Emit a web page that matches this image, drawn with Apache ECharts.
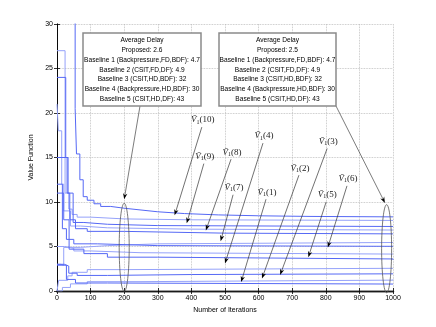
<!DOCTYPE html>
<html>
<head>
<meta charset="utf-8">
<script src="https://cdn.jsdelivr.net/npm/echarts@6/dist/echarts.min.js"></script>
<style>
  body { margin: 0; background: #fff; }
  #main { width: 436px; height: 327px; }
</style>
</head>
<body>
<div id="main"></div>
<script>
// value function traces, [iteration, value] (stairs)
var v1_10 = [[0,32],[54,20.5],[58,15.4],[68,12.5],[78,10.6],[90,10.2],[110,9.8],[130,9.5],[160,9.3],[200,9.1],[250,8.9],[300,8.7],[380,8.55],[480,8.45],[600,8.38],[750,8.33],[1000,8.3]];
var v1_a = [[0,27],[24,11],[35,9.2],[45,8.6],[60,8.3],[100,8.1],[200,8.0],[400,7.93],[1000,7.9]];
var v1_b = [[0,24],[26,15],[33,11],[48,7.7],[80,7.5],[150,7.35],[300,7.25],[1000,7.2]];
var v1_c = [[0,21],[4,18],[14,12],[20,9],[40,7.3],[70,7.1],[150,6.95],[400,6.85],[1000,6.8]];
var v1_d = [[0,15],[30,11],[38,8],[55,7.0],[90,6.7],[200,6.5],[500,6.42],[1000,6.4]];
var v1_e = [[0,3],[12,2.9],[20,4.9],[70,5.1],[150,5.3],[300,5.45],[1000,5.5]];
var v1_f = [[0,12],[16,7],[28,5.8],[50,5.3],[120,5.1],[300,5.02],[1000,5.0]];
var v1_g = [[0,5],[22,4.8],[50,4.5],[100,4.3],[250,4.15],[1000,4.1]];
var v1_h = [[0,11],[20,8],[36,4.7],[80,4.2],[150,3.8],[300,3.6],[1000,3.5]];
var v1_i = [[0,0],[5,1.2],[32,1.7],[45,2.1],[90,2.4],[200,2.55],[1000,2.6]];
var v1_j = [[0,3],[22,2.8],[35,2.0],[60,1.75],[150,1.85],[400,1.93],[1000,1.95]];
var v1_k = [[0,0],[16,0.4],[40,0.8],[90,1.05],[250,1.22],[1000,1.3]];
var v1_l = [[0,2.9],[28,1.3],[55,0.9],[150,0.78],[1000,0.75]];
var traces = [v1_10, v1_a, v1_b, v1_c, v1_d, v1_e, v1_f, v1_g, v1_h, v1_i, v1_j, v1_k, v1_l];

var xTicks = [0,100,200,300,400,500,600,700,800,900,1000];
var yTicks = [0,5,10,15,20,25,30];

// annotation labels and where their arrows point
var labelIdx = ['10','9','8','7','4','1','2','3','5','6'];
var labelAt = [[434,19.2],[440,15.1],[521,15.6],[527,11.6],[616,17.4],[625,11.1],[723,13.8],[807,16.8],[804,10.8],[866,12.6]];
var arrowTo = [[350,8.5],[386,7.6],[443,6.8],[487,5.6],[500,3.1],[548,1.0],[610,1.4],[664,1.8],[748,3.8],[806,4.9]];
var ellipseAt = [[200,4.9],[981,4.75]];
var ellipseHalf = 4.95;
var boxTips = [[200,10.3],[976,9.9]];

var boxLeft = ['Average Delay','Proposed: 2.6','Baseline 1 (Backpressure,FD,BDF): 4.7','Baseline 2 (CSIT,FD,DF): 4.9','Baseline 3 (CSIT,HD,BDF): 32','Baseline 4 (Backpressure,HD,BDF): 30','Baseline 5 (CSIT,HD,DF): 43'];
var boxRight = ['Average Delay','Proposed: 2.5','Baseline 1 (Backpressure,FD,BDF): 4.7','Baseline 2 (CSIT,FD,DF): 4.9','Baseline 3 (CSIT,HD,BDF): 32','Baseline 4 (Backpressure,HD,BDF): 30','Baseline 5 (CSIT,HD,DF): 43'];

var fontSans = '"Liberation Sans Narrow", "Liberation Sans", Arial, sans-serif';
var fontSerif = '"Liberation Serif", "DejaVu Serif", serif';

var chart = echarts.init(document.getElementById('main'), null, {renderer: 'canvas'});

var series = traces.map(function (d, i) {
  var col = i % 2 ? '#95a2fa' : '#5568f5';
  return {
    type: 'line',
    step: 'end',
    data: d,
    color: col,
    showSymbol: false,
    silent: true,
    z: 3,
    itemStyle: {color: col},
    lineStyle: {color: col, width: 1}
  };
});

var tickStyle = {inside: true, length: 3, lineStyle: {color: '#000', width: 0.8}};
var lbl = {fontSize: 7, color: '#000', fontFamily: fontSans, margin: 4, formatter: function (v) { return String(v); }};
var split = {show: true, lineStyle: {type: 'dotted', color: '#b8b8b8', width: 0.8}};

chart.setOption({
  animation: false,
  grid: {left: 57, right: 43, top: 24, bottom: 36, show: false},
  xAxis: [
    {type: 'value', min: 0, max: 1000, interval: 100, position: 'bottom',
     name: 'Number of Iterations', nameLocation: 'middle', nameGap: 14,
     nameTextStyle: {fontSize: 7, color: '#000', fontFamily: fontSans},
     axisLine: {lineStyle: {color: '#808080', width: 2.5}},
     axisTick: tickStyle, axisLabel: lbl, splitLine: split},
    {type: 'value', min: 0, max: 1000, interval: 100, position: 'top',
     axisLine: {lineStyle: {color: '#000', width: 0.8}},
     axisTick: tickStyle, axisLabel: {show: false}, splitLine: {show: false}}
  ],
  yAxis: [
    {type: 'value', min: 0, max: 30, interval: 5, position: 'left',
     name: 'Value Function', nameLocation: 'middle', nameGap: 14,
     nameTextStyle: {fontSize: 7, color: '#000', fontFamily: fontSans},
     axisLine: {show: true, lineStyle: {color: '#000', width: 0.8}},
     axisTick: tickStyle, axisLabel: lbl, splitLine: split},
    {type: 'value', min: 0, max: 30, interval: 5, position: 'right',
     axisLine: {show: true, lineStyle: {color: '#000', width: 0.8}},
     axisTick: tickStyle, axisLabel: {show: false}, splitLine: {show: false}}
  ],
  series: series
});

function px(p) {
  return chart.convertToPixel({xAxisIndex: 0, yAxisIndex: 0}, p);
}

function arrow(s, t, col) {
  var dx = t[0] - s[0], dy = t[1] - s[1];
  var len = Math.sqrt(dx * dx + dy * dy);
  var ux = dx / len, uy = dy / len, nx = -uy, ny = ux;
  var L = 6, W = 2.2;
  return [
    {type: 'line', shape: {x1: s[0], y1: s[1], x2: t[0] - ux * 3, y2: t[1] - uy * 3},
     style: {stroke: col, lineWidth: 0.7}, z: 20},
    {type: 'polygon', shape: {points: [
      [t[0], t[1]],
      [t[0] - ux * L + nx * W, t[1] - uy * L + ny * W],
      [t[0] - ux * L * 0.7, t[1] - uy * L * 0.7],
      [t[0] - ux * L - nx * W, t[1] - uy * L - ny * W]
    ]}, style: {fill: '#000'}, z: 21}
  ];
}

function box(x, y, w, h, lines) {
  var g = [{type: 'rect', shape: {x: x, y: y, width: w, height: h},
    style: {fill: '#fff', stroke: '#8a8a8a', lineWidth: 1.5}, z: 30}];
  lines.forEach(function (t, i) {
    g.push({type: 'text', x: x + w / 2, y: y + 7 + i * 9.9, z: 31,
      style: {text: t, fontSize: 6.6, fontFamily: fontSans, fill: '#000', align: 'center', verticalAlign: 'middle'}});
  });
  return g;
}

var gfx = [];
gfx = gfx.concat(box(83, 33, 118, 73, boxLeft));
gfx = gfx.concat(box(219, 33, 117, 73, boxRight));

ellipseAt.forEach(function (e) {
  var c = px(e);
  var top = px([e[0], e[1] + ellipseHalf]);
  gfx.push({type: 'ellipse', shape: {cx: c[0], cy: c[1], rx: 5, ry: c[1] - top[1]},
    style: {fill: 'none', stroke: '#555', lineWidth: 0.8}, z: 15});
});

gfx = gfx.concat(arrow([140, 106], px(boxTips[0]), '#444'));
gfx = gfx.concat(arrow([336, 106], px(boxTips[1]), '#444'));

labelIdx.forEach(function (n, i) {
  var c = px(labelAt[i]);
  gfx.push({type: 'text', x: c[0], y: c[1], z: 25,
    style: {
      text: '{v|Ṽ}{s|1}{p|(' + n + ')}',
      align: 'center', verticalAlign: 'middle',
      rich: {
        v: {fontSize: 9, fontStyle: 'italic', fontFamily: fontSerif, fill: '#222'},
        s: {fontSize: 6, fontFamily: fontSerif, fill: '#222', verticalAlign: 'bottom', padding: [4, 0, 0, 0]},
        p: {fontSize: 9, fontFamily: fontSerif, fill: '#222'}
      }
    }});
  gfx = gfx.concat(arrow([c[0] - 1, c[1] + 7], px(arrowTo[i]), '#333'));
});

chart.setOption({graphic: gfx});
</script>
</body>
</html>
